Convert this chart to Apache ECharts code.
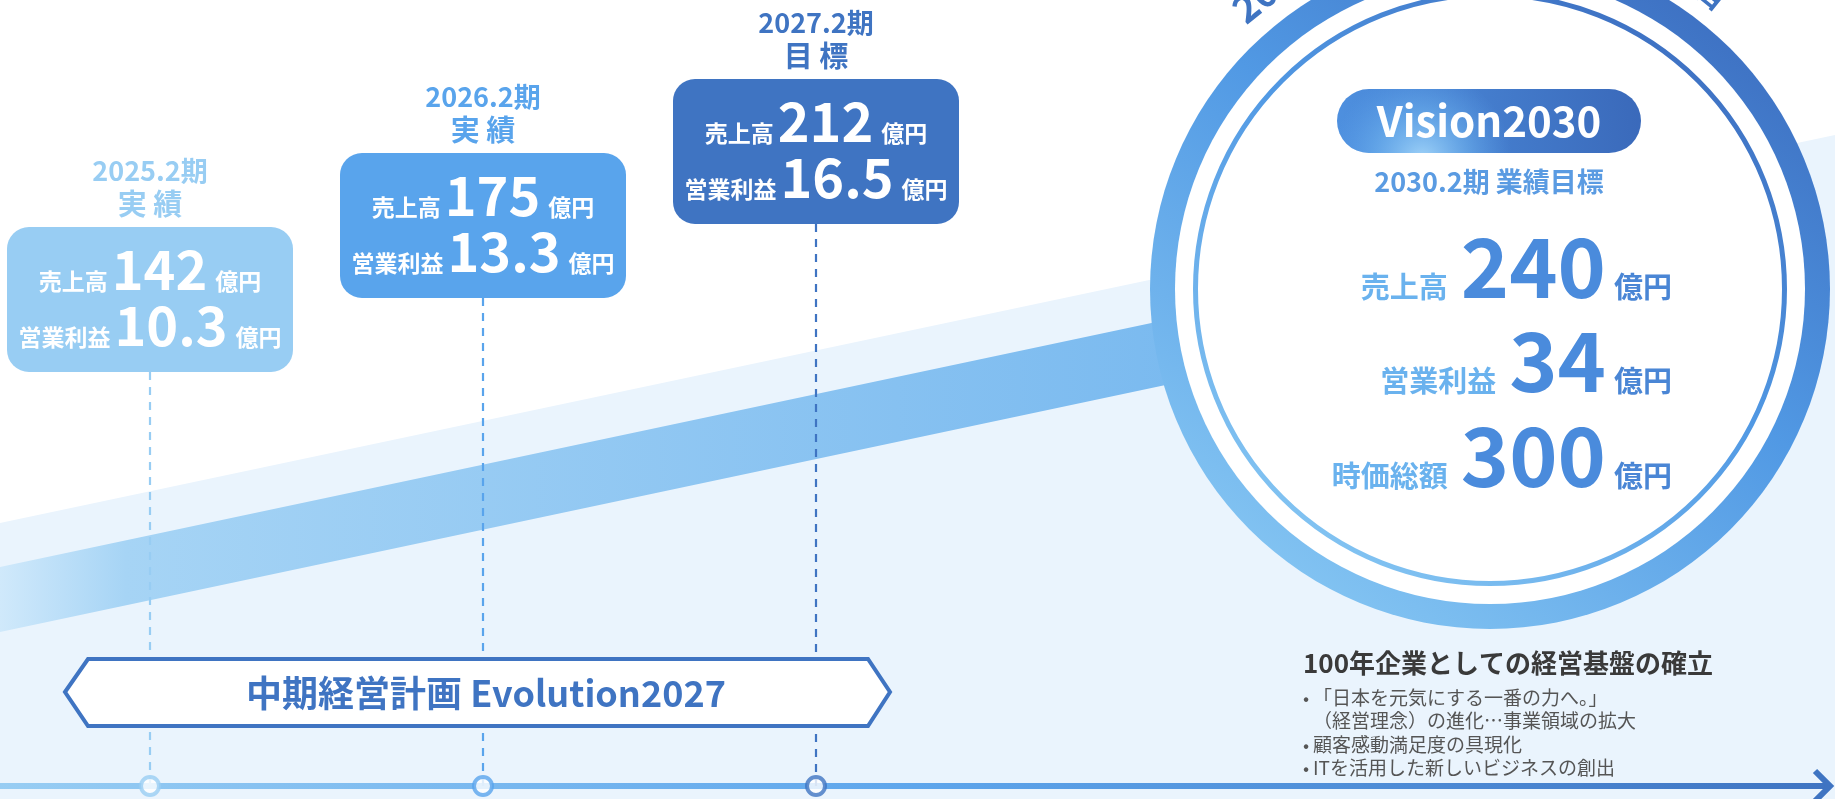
<!DOCTYPE html>
<html>
<head>
<meta charset="utf-8">
<title>Vision2030</title>
<script src="https://cdn.jsdelivr.net/npm/echarts@6/dist/echarts.min.js"></script>
<style>
    html, body { margin: 0; padding: 0; background: #fff; }
    #main { width: 1835px; height: 799px; }
</style>
</head>
<body>
<div id="main"></div>
<script>
// 中期経営計画 Evolution2027 の実績・目標
var periods = ['2025.2期', '2026.2期', '2027.2期'];
var periodYears = [2025, 2026, 2027];
var statusLabels = ['実 績', '実 績', '目 標'];
var salesValues = [142, 175, 212];       // 売上高（億円）
var profitValues = [10.3, 13.3, 16.5];   // 営業利益（億円）

// Vision2030（2030.2期 業績目標）
var visionLabels = ['売上高', '営業利益', '時価総額'];
var visionValues = [240, 34, 300];
var unitText = '億円';

// テキスト
var planName = '中期経営計画 Evolution2027';
var visionTitle = 'Vision2030';
var visionSub = '2030.2期 業績目標';
var baseTitle = '100年企業としての経営基盤の確立';
var baseItems = [
    ['•', '「日本を元気にする一番の力へ。」'],
    ['', '（経営理念）の進化…事業領域の拡大'],
    ['•', '顧客感動満足度の具現化'],
    ['•', 'ITを活用した新しいビジネスの創出']
];

// 色
var boxColors = ['#98CDF3', '#59A4EC', '#3F74C2'];
var FONT = '"Noto Sans CJK JP", "Noto Sans", sans-serif';

var measureCtx = document.createElement('canvas').getContext('2d');
function font(size, weight) {
    return (weight || 'bold') + ' ' + size + 'px ' + FONT;
}
function textWidth(text, f) {
    measureCtx.font = f;
    return measureCtx.measureText(text).width;
}
// ベースライン位置に文字を置く
function textAt(text, x, baseline, size, color, align, weight, z) {
    return {
        type: 'text',
        z: z,
        style: {
            text: text,
            x: x,
            y: baseline - size * 0.38,
            font: font(size, weight),
            fill: color,
            textAlign: align || 'left',
            textVerticalAlign: 'middle'
        }
    };
}
// 中央揃えの一行（ラベル + 数字 + 単位）
function centeredRow(parts, cx, baseline, color) {
    var widths = parts.map(function (p) { return textWidth(p.text, font(p.size)); });
    var total = 0;
    parts.forEach(function (p, i) { total += widths[i] + (p.gap || 0); });
    var x = cx - total / 2;
    var out = [];
    parts.forEach(function (p, i) {
        out.push(textAt(p.text, x, baseline, p.size, color));
        x += widths[i] + (p.gap || 0);
    });
    return out;
}

var chart = echarts.init(document.getElementById('main'), null, { renderer: 'canvas' });

var W = 1835, H = 799;
var lineY = 786;              // タイムラインの高さ
var circle = { x: 1490, y: 289 };

function ringGradient() {
    return new echarts.graphic.LinearGradient(0.85, 0, 0.15, 1, [
        { offset: 0, color: '#3A69BC' },
        { offset: 0.45, color: '#5199E4' },
        { offset: 1, color: '#8ACAF4' }
    ]);
}

var graphics = [];
// 背景
graphics.push({ type: 'rect', z: 0, shape: { x: 0, y: 0, width: W, height: H }, style: { fill: '#fff' } });
graphics.push({
    type: 'polygon', z: 0,
    shape: { points: [[0, 523], [W, 135], [W, H], [0, H]] },
    style: { fill: '#EAF4FD' }
});
// 斜めの帯
graphics.push({
    type: 'polygon', z: 1,
    shape: { points: [[0, 567], [1260, 300], [1260, 365], [0, 632]] },
    style: {
        fill: new echarts.graphic.LinearGradient(0, 0, 1, 0, [
            { offset: 0, color: '#D0E9FB' },
            { offset: 0.1, color: '#A6D4F5' },
            { offset: 1, color: '#77B8EF' }
        ])
    }
});
// Vision2030 の円
graphics.push({ type: 'circle', z: 2, shape: { cx: circle.x, cy: circle.y, r: 340 }, style: { fill: ringGradient() } });
graphics.push({ type: 'circle', z: 2, z2: 1, shape: { cx: circle.x, cy: circle.y, r: 315 }, style: { fill: '#fff' } });
graphics.push({ type: 'circle', z: 2, z2: 2, shape: { cx: circle.x, cy: circle.y, r: 294.5 }, style: { fill: null, stroke: ringGradient(), lineWidth: 5 } });
// 円の外周の文字（上部で切れている）
graphics.push({
    type: 'text', z: 2, x: 1272, y: -14, rotation: 0.68,
    style: { text: '2030', font: font(38), fill: '#3F74C2', textAlign: 'center', textVerticalAlign: 'middle' }
});
graphics.push({
    type: 'text', z: 2, x: 1712, y: -6, rotation: -0.68,
    style: { text: '目', font: font(30), fill: '#3F74C2', textAlign: 'center', textVerticalAlign: 'middle' }
});
// Vision2030 ピル（濃い青 + 左下の明るいグロー）
var pill = { x: 1337, y: 89, width: 304, height: 64, r: 32 };
graphics.push({
    type: 'rect', z: 5, shape: pill,
    style: {
        fill: new echarts.graphic.LinearGradient(1, 0, 0, 0.7, [
            { offset: 0, color: '#3A69BA' },
            { offset: 1, color: '#4E90DF' }
        ])
    }
});
graphics.push({
    type: 'rect', z: 5, z2: 1, shape: pill,
    style: {
        fill: new echarts.graphic.RadialGradient(0.28, 1.1, 1.4, [
            { offset: 0, color: 'rgba(165,215,250,0.95)' },
            { offset: 0.55, color: 'rgba(120,190,245,0.45)' },
            { offset: 1, color: 'rgba(100,170,240,0)' }
        ])
    }
});
graphics.push(textAt(visionTitle, 1489, 137, 42, '#fff', 'center', 'bold', 6));
graphics.push(textAt(visionSub, 1489, 192, 27, '#5A9BE2', 'center', 'bold', 6));
var visionBaselines = [298, 392, 487];
visionLabels.forEach(function (label, i) {
    var num = String(visionValues[i]);
    var nf = font(82);
    var numRight = 1606;
    var numLeft = numRight - textWidth(num, nf);
    graphics.push(textAt(label, numLeft - 13, visionBaselines[i], 29, '#6AB2EE', 'right', 'bold', 6));
    graphics.push(textAt(num, numRight, visionBaselines[i], 82, '#4A8BDC', 'right', 'bold', 6));
    graphics.push(textAt(unitText, 1614, visionBaselines[i], 29, '#4A86D5', 'left', 'bold', 6));
});
// 100年企業
graphics.push(textAt(baseTitle, 1303, 673, 26, '#3A3A3A', 'left', 'bold', 6));
baseItems.forEach(function (item, i) {
    var b = 705 + i * 23.3;
    if (item[0]) graphics.push(textAt(item[0], 1303, b, 18, '#555', 'left', 'normal', 6));
    graphics.push(textAt(item[1], 1313, b, 19, '#555', 'left', 'normal', 6));
});
// タイムライン
graphics.push({
    type: 'line', z: 3,
    shape: { x1: 0, y1: lineY, x2: 1828, y2: lineY },
    style: {
        stroke: new echarts.graphic.LinearGradient(0, 0, 1, 0, [
            { offset: 0, color: '#98CDF3' },
            { offset: 0.5, color: '#5EA6EC' },
            { offset: 1, color: '#3F74C2' }
        ]),
        lineWidth: 6
    }
});
graphics.push({
    type: 'polyline', z: 3,
    shape: { points: [[1815, lineY - 15], [1830, lineY], [1815, lineY + 15]] },
    style: { stroke: '#3F74C2', lineWidth: 6, fill: null, lineJoin: 'miter' }
});
// 中期経営計画バナー
graphics.push({
    type: 'polygon', z: 9,
    shape: { points: [[65, 692], [88, 659], [868, 659], [890, 692], [868, 726], [88, 726]] },
    style: { fill: '#fff', stroke: '#3F74C2', lineWidth: 4 }
});
graphics.push(textAt(planName, 486, 707, 36, '#3F74C2', 'center', 'bold', 10));

var option = {
    animation: false,
    backgroundColor: '#fff',
    grid: { left: 150, right: W - 816, top: 0, bottom: H - lineY },
    xAxis: { type: 'value', min: 2025, max: 2027, show: false },
    yAxis: { type: 'value', min: 0, max: 1, show: false },
    graphic: { elements: graphics },
    series: [
        {
            // 実績・目標ボックス
            type: 'custom',
            z: 6,
            data: periodYears.map(function (y) { return [y, 0]; }),
            renderItem: function (params, api) {
                var i = params.dataIndex;
                var p = api.coord([api.value(0), api.value(1)]);
                var cx = p[0];
                var top = 227 - i * 74;
                var w = 286, h = 145;
                var color = boxColors[i];
                var children = [];
                children.push({
                    type: 'line',
                    shape: { x1: cx, y1: top + h, x2: cx, y2: p[1] },
                    style: { stroke: color, lineWidth: 2.2, lineDash: [8, 7] }
                });
                children.push({
                    type: 'rect',
                    shape: { x: cx - w / 2, y: top, width: w, height: h, r: 22 },
                    style: { fill: color }
                });
                children.push(textAt(periods[i], cx, top - 46, 27, color, 'center'));
                children.push(textAt(statusLabels[i], cx, top - 12, 29, color, 'center'));
                centeredRow([
                    { text: '売上高', size: 23, gap: 4 },
                    { text: String(salesValues[i]), size: 54, gap: 8 },
                    { text: unitText, size: 23 }
                ], cx, top + 63, '#fff').forEach(function (e) { children.push(e); });
                centeredRow([
                    { text: '営業利益', size: 23, gap: 4 },
                    { text: profitValues[i].toFixed(1), size: 54, gap: 8 },
                    { text: unitText, size: 23 }
                ], cx, top + 119, '#fff').forEach(function (e) { children.push(e); });
                return { type: 'group', children: children };
            }
        },
        {
            // タイムライン上の点
            type: 'scatter',
            z: 8,
            symbol: 'circle',
            symbolSize: 18,
            data: periodYears.map(function (y, i) {
                return {
                    value: [y, 0],
                    itemStyle: { color: '#fff', borderColor: boxColors[i], borderWidth: 4 }
                };
            }),
            silent: true
        }
    ]
};
chart.setOption(option);
</script>
</body>
</html>
